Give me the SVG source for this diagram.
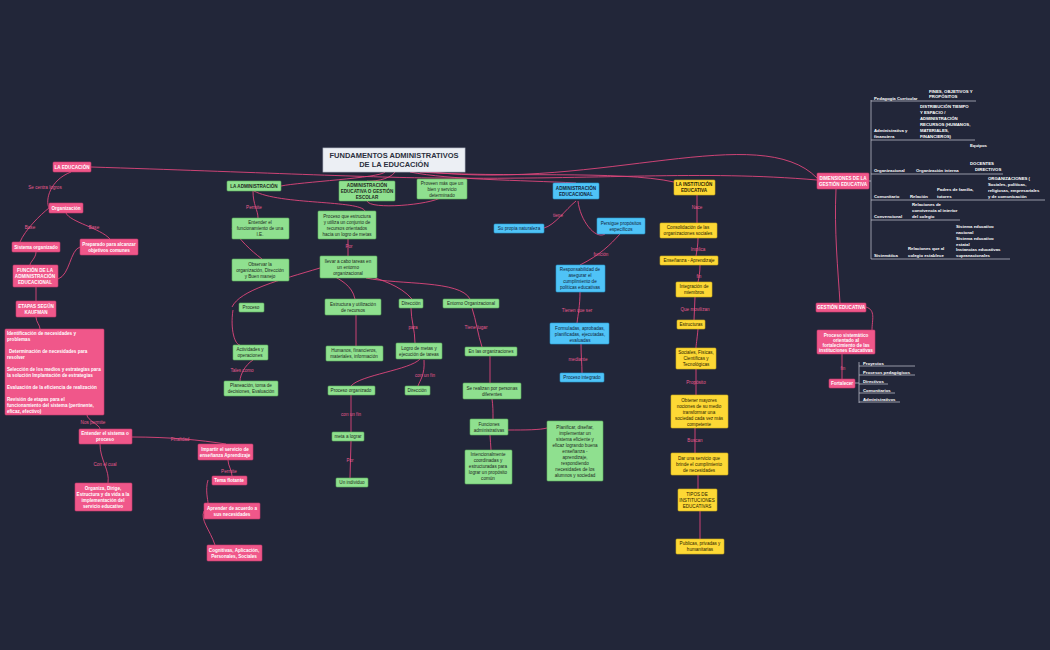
<svg xmlns="http://www.w3.org/2000/svg" width="1050" height="650" viewBox="0 0 1050 650">
<style>
text{font-family:"Liberation Sans",Arial,sans-serif;font-size:4.6px;text-anchor:middle}
.p rect{fill:#f0578a;stroke:#c93a6c;stroke-width:.6}
.p text{fill:#fff;font-weight:bold}
.g rect{fill:#8fe08f;stroke:#5fb35f;stroke-width:.6}
.g text{fill:#1e2a1e}
.b rect{fill:#4fc3f7;stroke:#2a9ad0;stroke-width:.6}
.b text{fill:#10243a}
.y rect{fill:#fdd835;stroke:#d4b11c;stroke-width:.6}
.y text{fill:#2a2300}
.bold text{font-weight:bold}
.lab{fill:#e75a8d;font-size:4.6px}
#connectors path{fill:none;stroke:#e0467c;stroke-width:.9}
.tl{fill:#fff;font-weight:bold;text-anchor:start;font-size:4.3px}
.ln{stroke:#c9ccd6;stroke-width:.7;fill:none}
</style>
<rect width="1050" height="650" fill="#222639"/>

<g id="connectors">
<path d="M91,167 C250,172 380,178 440,178 C600,180 700,170 817,180"/>
<path d="M385,172 C380,178 300,182 281,186"/>
<path d="M395,172 C390,180 370,182 367,181"/>
<path d="M410,172 C450,180 520,180 576,183"/>
<path d="M420,172 C500,178 620,170 674,182"/>
<path d="M430,172 C600,190 760,120 817,178"/>
<path d="M71,172 C50,180 45,200 49,208"/>
<path d="M49,208 C40,215 25,230 20,242"/>
<path d="M66,213 C70,222 100,228 110,239"/>
<path d="M36,252 C36,258 30,262 30,265"/>
<path d="M58,279 C70,275 70,250 80,247"/>
<path d="M36,287 L36,301"/>
<path d="M36,317 C36,322 40,325 40,329"/>
<path d="M87,415 C87,420 100,425 100,429"/>
<path d="M100,444 C100,460 110,470 108,483"/>
<path d="M132,437 C170,437 200,440 226,444"/>
<path d="M228,460 C228,466 232,470 232,476"/>
<path d="M208,480 C205,490 208,500 208,503"/>
<path d="M215,545 C210,530 200,520 204,511"/>
<path d="M253,191 C253,205 258,210 258,218"/>
<path d="M254,191 C280,205 360,200 365,211"/>
<path d="M367,201 C370,210 430,205 442,197"/>
<path d="M348,239 L348,256"/>
<path d="M232,228 C240,240 250,250 262,259"/>
<path d="M320,268 C280,280 240,290 232,307"/>
<path d="M332,275 C340,280 352,285 355,299"/>
<path d="M370,276 C380,280 400,285 412,299"/>
<path d="M366,278 C400,285 460,280 470,299"/>
<path d="M233,310 C230,330 235,345 240,345"/>
<path d="M253,360 C245,365 240,375 240,381"/>
<path d="M356,315 L356,346"/>
<path d="M411,308 C411,320 415,330 415,343"/>
<path d="M472,308 C476,320 478,335 482,347"/>
<path d="M420,359 C410,370 360,375 351,386"/>
<path d="M424,360 C425,375 420,380 418,386"/>
<path d="M490,356 L490,383"/>
<path d="M351,395 L351,432"/>
<path d="M351,441 L350,478"/>
<path d="M492,399 C493,405 493,412 493,419"/>
<path d="M490,435 C490,440 491,445 491,450"/>
<path d="M508,430 C525,430 540,430 547,428"/>
<path d="M544,228 C555,225 565,210 576,201"/>
<path d="M578,201 C580,220 595,240 605,234"/>
<path d="M620,234 C610,245 600,255 580,265"/>
<path d="M580,292 C580,305 578,315 577,323"/>
<path d="M581,344 C581,355 582,365 582,373"/>
<path d="M697,190 L697,223"/>
<path d="M698,238 C698,245 697,250 696,256"/>
<path d="M700,265 C700,272 699,278 698,282"/>
<path d="M695,297 L694,320"/>
<path d="M698,329 C697,340 696,345 696,348"/>
<path d="M696,369 L696,395"/>
<path d="M695,428 L695,453"/>
<path d="M698,475 L698,489"/>
<path d="M700,511 L700,539"/>
<path d="M836,189 C834,230 838,270 840,303"/>
<path d="M866,307 C876,310 872,320 872,330"/>
<path d="M842,354 L842,379"/>
</g>

<g id="title"><rect x="323" y="148" width="142" height="24" fill="#eceff4" stroke="#b9bfcc" stroke-width=".7"/><text x="394" y="158" style="font-size:7.5px;font-weight:bold;fill:#2b2f3d">FUNDAMENTOS ADMINISTRATIVOS</text><text x="394" y="167" style="font-size:7.5px;font-weight:bold;fill:#2b2f3d">DE LA EDUCACIÓN</text></g>

<g id="n-educacion" class="p"><rect x="53" y="162" width="38" height="10" rx="1"/><text x="72" y="169">LA EDUCACIÓN</text></g>
<g id="n-organizacion" class="p"><rect x="49" y="203" width="34" height="10" rx="1"/><text x="66" y="210">Organización</text></g>
<g id="n-sistorg" class="p"><rect x="12" y="242" width="48" height="10" rx="1"/><text x="36" y="249">Sistema organizado</text></g>
<g id="n-preparado" class="p"><rect x="80" y="239" width="58" height="16" rx="1"/><text x="109" y="246">Preparado para alcanzar</text><text x="109" y="252">objetivos comunes</text></g>
<g id="n-funcion" class="p"><rect x="13" y="265" width="45" height="22" rx="1"/><text x="35" y="272">FUNCIÓN DE LA</text><text x="35" y="278">ADMINISTRACIÓN</text><text x="35" y="284">EDUCACIONAL</text></g>
<g id="n-etapas" class="p"><rect x="16" y="301" width="40" height="16" rx="1"/><text x="36" y="308">ETAPAS SEGÚN</text><text x="36" y="314">KAUFMAN</text></g>
<g id="n-lista" class="p"><rect x="5" y="329" width="99" height="86" rx="1"/>
<text x="7" y="335" style="text-anchor:start">Identificación de necesidades y</text><text x="7" y="341" style="text-anchor:start">problemas</text>
<text x="9" y="353" style="text-anchor:start">Determinación de necesidades para</text><text x="7" y="359" style="text-anchor:start">resolver</text>
<text x="7" y="371" style="text-anchor:start">Selección de los medios y estrategias para</text><text x="7" y="377" style="text-anchor:start">la solución Implantación de estrategias</text>
<text x="7" y="389" style="text-anchor:start">Evaluación de la eficiencia de realización</text>
<text x="7" y="401" style="text-anchor:start">Revisión de etapas para el</text><text x="7" y="407" style="text-anchor:start">funcionamiento del sistema (pertinente,</text><text x="7" y="413" style="text-anchor:start">eficaz, efectivo)</text></g>
<g id="n-entender" class="p"><rect x="79" y="429" width="53" height="15" rx="1"/><text x="105" y="435">Entender el sistema o</text><text x="105" y="441">proceso</text></g>
<g id="n-organiza" class="p"><rect x="75" y="483" width="57" height="28" rx="1"/><text x="103" y="490">Organiza, Dirige,</text><text x="103" y="496">Estructura y da vida a la</text><text x="103" y="502">implementación del</text><text x="103" y="508">servicio educativo</text></g>
<g id="n-impartir" class="p"><rect x="198" y="444" width="55" height="16" rx="1"/><text x="225" y="451">Impartir el servicio de</text><text x="225" y="457">enseñanza Aprendizaje</text></g>
<g id="n-tema" class="p"><rect x="212" y="476" width="35" height="9" rx="1"/><text x="229" y="482">Tema flotante</text></g>
<g id="n-aprender" class="p"><rect x="204" y="503" width="56" height="16" rx="1"/><text x="232" y="510">Aprender de acuerdo a</text><text x="232" y="516">sus necesidades</text></g>
<g id="n-cognitivas" class="p"><rect x="207" y="545" width="55" height="16" rx="1"/><text x="234" y="552">Cognitivas, Aplicación,</text><text x="234" y="558">Personales, Sociales</text></g>

<g id="n-laadmin" class="g bold"><rect x="227" y="181" width="54" height="10" rx="1"/><text x="254" y="188">LA ADMINISTRACIÓN</text></g>
<g id="n-admedu" class="g bold"><rect x="339" y="181" width="56" height="20" rx="1"/><text x="367" y="187">ADMINISTRACIÓN</text><text x="367" y="193">EDUCATIVA O GESTIÓN</text><text x="367" y="199">ESCOLAR</text></g>
<g id="n-proveen" class="g"><rect x="417" y="179" width="50" height="20" rx="1"/><text x="442" y="185">Proveen más que un</text><text x="442" y="191">bien y servicio</text><text x="442" y="197">determinado</text></g>
<g id="n-procesoq" class="g"><rect x="318" y="211" width="58" height="28" rx="1"/><text x="347" y="218">Proceso que estructura</text><text x="347" y="224">y utiliza un conjunto de</text><text x="347" y="230">recursos orientados</text><text x="347" y="236">hacia un logro de metas</text></g>
<g id="n-entfun" class="g"><rect x="232" y="218" width="57" height="21" rx="1"/><text x="260" y="224">Entender el</text><text x="260" y="230">funcionamiento de una</text><text x="260" y="236">I.E.</text></g>
<g id="n-observar" class="g"><rect x="232" y="259" width="57" height="22" rx="1"/><text x="260" y="266">Observar la</text><text x="260" y="272">organización, Dirección</text><text x="260" y="278">y Buen manejo</text></g>
<g id="n-llevar" class="g"><rect x="320" y="256" width="57" height="22" rx="1"/><text x="348" y="263">llevar a cabo tareas en</text><text x="348" y="269">un entorno</text><text x="348" y="275">organizacional</text></g>
<g id="n-proceso" class="g"><rect x="239" y="303" width="25" height="9" rx="1"/><text x="251" y="309">Proceso</text></g>
<g id="n-estructura" class="g"><rect x="325" y="299" width="56" height="16" rx="1"/><text x="353" y="306">Estructura y utilización</text><text x="353" y="312">de recursos</text></g>
<g id="n-direccion1" class="g"><rect x="399" y="299" width="24" height="9" rx="1"/><text x="411" y="305">Dirección</text></g>
<g id="n-entorno" class="g"><rect x="443" y="299" width="56" height="9" rx="1"/><text x="471" y="305">Entorno Organizacional</text></g>
<g id="n-actividades" class="g"><rect x="233" y="345" width="35" height="15" rx="1"/><text x="250" y="351">Actividades y</text><text x="250" y="357">operaciones</text></g>
<g id="n-humanos" class="g"><rect x="326" y="346" width="57" height="15" rx="1"/><text x="354" y="352">Humanos, financieros,</text><text x="354" y="358">materiales, información</text></g>
<g id="n-logro" class="g"><rect x="396" y="343" width="46" height="16" rx="1"/><text x="419" y="350">Logro de metas  y</text><text x="419" y="356">ejecución de tareas</text></g>
<g id="n-enorg" class="g"><rect x="465" y="347" width="52" height="9" rx="1"/><text x="491" y="353">En las organizaciones</text></g>
<g id="n-planeacion" class="g"><rect x="224" y="381" width="54" height="15" rx="1"/><text x="251" y="387">Planeación, toma de</text><text x="251" y="393">decisiones, Evaluación</text></g>
<g id="n-procorg" class="g"><rect x="328" y="386" width="47" height="9" rx="1"/><text x="351" y="392">Proceso organizado</text></g>
<g id="n-direccion2" class="g"><rect x="405" y="386" width="25" height="9" rx="1"/><text x="417" y="392">Dirección</text></g>
<g id="n-realizan" class="g"><rect x="463" y="383" width="58" height="16" rx="1"/><text x="492" y="390">Se realizan por personas</text><text x="492" y="396">diferentes</text></g>
<g id="n-meta" class="g"><rect x="332" y="432" width="32" height="9" rx="1"/><text x="348" y="438">meta a lograr</text></g>
<g id="n-funciones" class="g"><rect x="470" y="419" width="38" height="16" rx="1"/><text x="489" y="426">Funciones</text><text x="489" y="432">administrativas</text></g>
<g id="n-intencion" class="g"><rect x="465" y="450" width="47" height="34" rx="1"/><text x="488" y="456">Intencionalmente</text><text x="488" y="462">coordinadas  y</text><text x="488" y="468">estructuradas para</text><text x="488" y="474">lograr un propósito</text><text x="488" y="480">común</text></g>
<g id="n-planificar" class="g"><rect x="547" y="421" width="56" height="60" rx="1"/><text x="575" y="429">Planificar, diseñar,</text><text x="575" y="435">implementar un</text><text x="575" y="441">sistema eficiente y</text><text x="575" y="447">eficaz logrando buena</text><text x="575" y="453">enseñanza -</text><text x="575" y="459">aprendizaje,</text><text x="575" y="465">respondiendo</text><text x="575" y="471">necesidades de los</text><text x="575" y="477">alumnos y sociedad</text></g>
<g id="n-individuo" class="g"><rect x="336" y="478" width="32" height="9" rx="1"/><text x="352" y="484">Un individuo</text></g>

<g id="n-admeduc" class="b bold"><rect x="553" y="183" width="46" height="16" rx="1"/><text x="576" y="190">ADMINISTRACIÓN</text><text x="576" y="196">EDUCACIONAL</text></g>
<g id="n-naturaleza" class="b"><rect x="494" y="224" width="50" height="9" rx="1"/><text x="519" y="230">Su propia naturaleza</text></g>
<g id="n-persigue" class="b"><rect x="597" y="218" width="48" height="16" rx="1"/><text x="621" y="225">Persigue propósitos</text><text x="621" y="231">específicos</text></g>
<g id="n-respons" class="b"><rect x="556" y="265" width="49" height="27" rx="1"/><text x="580" y="271">Responsabilidad de</text><text x="580" y="277">asegurar el</text><text x="580" y="283">cumplimiento de</text><text x="580" y="289">políticas educativas</text></g>
<g id="n-formuladas" class="b"><rect x="550" y="323" width="59" height="21" rx="1"/><text x="580" y="330">Formuladas, aprobadas,</text><text x="580" y="336">planificadas, ejecutadas,</text><text x="580" y="342">evaluadas</text></g>
<g id="n-integrado" class="b"><rect x="560" y="373" width="44" height="9" rx="1"/><text x="582" y="379">Proceso integrado</text></g>

<g id="n-institucion" class="y bold"><rect x="674" y="180" width="41" height="15" rx="1"/><text x="694" y="186">LA INSTITUCIÓN</text><text x="694" y="192">EDUCATIVA</text></g>
<g id="n-consolid" class="y"><rect x="660" y="223" width="57" height="15" rx="1"/><text x="688" y="229">Consolidación  de las</text><text x="688" y="235">organizaciones  sociales</text></g>
<g id="n-ensenanza" class="y"><rect x="660" y="256" width="58" height="9" rx="1"/><text x="689" y="262">Enseñanza - Aprendizaje</text></g>
<g id="n-integracion" class="y"><rect x="676" y="282" width="36" height="15" rx="1"/><text x="694" y="288">Integración de</text><text x="694" y="294">miembros</text></g>
<g id="n-estructuras" class="y"><rect x="677" y="320" width="28" height="9" rx="1"/><text x="691" y="326">Estructuras</text></g>
<g id="n-sociales" class="y"><rect x="676" y="348" width="40" height="21" rx="1"/><text x="696" y="354">Sociales, Físicas,</text><text x="696" y="360">Científicas y</text><text x="696" y="366">Tecnológicas</text></g>
<g id="n-obtener" class="y"><rect x="671" y="395" width="57" height="33" rx="1"/><text x="699" y="402">Obtener mayores</text><text x="699" y="408">nociones de su medio</text><text x="699" y="414">transformar una</text><text x="699" y="420">sociedad cada vez más</text><text x="699" y="426">competente</text></g>
<g id="n-dar" class="y"><rect x="671" y="453" width="57" height="22" rx="1"/><text x="699" y="460">Dar una servicio que</text><text x="699" y="466">brinde el cumplimiento</text><text x="699" y="472">de necesidades</text></g>
<g id="n-tipos" class="y"><rect x="678" y="489" width="39" height="22" rx="1"/><text x="697" y="496">TIPOS DE</text><text x="697" y="502">INSTITUCIONES</text><text x="697" y="508">EDUCATIVAS</text></g>
<g id="n-publicas" class="y"><rect x="676" y="539" width="48" height="15" rx="1"/><text x="700" y="545">Publicas, privadas y</text><text x="700" y="551">humanitarias</text></g>

<g id="n-dimensiones" class="p"><rect x="817" y="173" width="52" height="16" rx="1"/><text x="843" y="180">DIMENSIONES DE LA</text><text x="843" y="186">GESTIÓN EDUCATIVA</text></g>
<g id="n-gestion" class="p"><rect x="816" y="303" width="50" height="9" rx="1"/><text x="841" y="309">GESTIÓN EDUCATIVA</text></g>
<g id="n-sistematico" class="p"><rect x="817" y="330" width="58" height="24" rx="1"/><text x="846" y="337">Proceso sistemático</text><text x="846" y="342">orientado al</text><text x="846" y="347">fortalecimiento de las</text><text x="846" y="352">instituciones Educativas</text></g>
<g id="n-fortalecer" class="p"><rect x="829" y="379" width="26" height="9" rx="1"/><text x="842" y="385">Fortalecer</text></g>

<g id="labels">
<text class="lab" x="45" y="189">Se centra logros</text>
<text class="lab" x="30" y="229">Base</text>
<text class="lab" x="94" y="229">Base</text>
<text class="lab" x="93" y="424">Nos permite</text>
<text class="lab" x="180" y="441">Finalidad</text>
<text class="lab" x="105" y="466">Con el cual</text>
<text class="lab" x="229" y="473">Permite</text>
<text class="lab" x="254" y="209">Permite</text>
<text class="lab" x="349" y="248">Por</text>
<text class="lab" x="242" y="372">Tales como</text>
<text class="lab" x="413" y="329">para</text>
<text class="lab" x="476" y="329">Tiene lugar</text>
<text class="lab" x="425" y="377">con un fin</text>
<text class="lab" x="351" y="416">con un fin</text>
<text class="lab" x="350" y="462">Por</text>
<text class="lab" x="558" y="217">tiene</text>
<text class="lab" x="601" y="256">función</text>
<text class="lab" x="577" y="312">Tienen que ser</text>
<text class="lab" x="578" y="361">mediante</text>
<text class="lab" x="697" y="209">Nace</text>
<text class="lab" x="698" y="251">Implica</text>
<text class="lab" x="699" y="278">fin</text>
<text class="lab" x="695" y="311">Que movilizan</text>
<text class="lab" x="696" y="384">Propósito</text>
<text class="lab" x="695" y="442">Buscan</text>
<text class="lab" x="843" y="370">fin</text>
</g>

<g id="dim-tree">
<path class="ln" d="M869,181 L871,181 M871,100 L871,259 M871,101 L976,101 M871,140 L975,140 M871,174 L1003,174 M871,200 L1045,200 M871,220 L960,220 M871,259 L1010,259"/>
<text class="tl" x="874" y="100">Pedagogía Curricular</text>
<text class="tl" x="929" y="93">FINES, OBJETIVOS Y</text><text class="tl" x="929" y="98">PROPÓSITOS</text>
<text class="tl" x="874" y="132">Administrativa y</text><text class="tl" x="874" y="138">financiera</text>
<text class="tl" x="920" y="108">DISTRIBUCIÓN TIEMPO</text><text class="tl" x="920" y="114">Y ESPACIO  /</text><text class="tl" x="920" y="120">ADMINISTRACIÓN</text><text class="tl" x="920" y="126">RECURSOS (HUMANOS,</text><text class="tl" x="920" y="132">MATERIALES,</text><text class="tl" x="920" y="138">FINANCIEROS)</text>
<text class="tl" x="874" y="172">Organizacional</text><text class="tl" x="916" y="172">Organización interna</text>
<text class="tl" x="970" y="147">Equipos</text><text class="tl" x="970" y="165">DOCENTES</text><text class="tl" x="975" y="171">DIRECTIVOS</text>
<text class="tl" x="874" y="198">Comunitario</text><text class="tl" x="910" y="198">Relación</text>
<text class="tl" x="937" y="191">Padres de familia,</text><text class="tl" x="937" y="198">tutores</text>
<text class="tl" x="988" y="180">ORGANIZACIONES (</text><text class="tl" x="988" y="186">Sociales, políticas,</text><text class="tl" x="988" y="192">religiosas, empresariales</text><text class="tl" x="988" y="198">y de comunicación</text>
<text class="tl" x="874" y="218">Convencional</text>
<text class="tl" x="912" y="206">Relaciones de</text><text class="tl" x="912" y="212">convivencia al interior</text><text class="tl" x="912" y="218">del colegio</text>
<text class="tl" x="874" y="257">Sistemática</text>
<text class="tl" x="908" y="250">Relaciones que al</text><text class="tl" x="908" y="257">colegio establece</text>
<text class="tl" x="956" y="228">Sistema educativo</text><text class="tl" x="956" y="234">nacional</text><text class="tl" x="956" y="240">Sistema educativo</text><text class="tl" x="956" y="246">estatal</text><text class="tl" x="956" y="251">Instancias educativas</text><text class="tl" x="956" y="257">supranacionales</text>
</g>

<g id="fort-tree">
<path class="ln" d="M855,383 L859,383 M859,362 L859,403 M859,366 L915,366 M859,375 L915,375 M859,384 L888,384 M859,393 L895,393 M859,402 L900,402"/>
<text class="tl" x="863" y="365">Proyectos</text>
<text class="tl" x="863" y="374">Procesos pedagógicos</text>
<text class="tl" x="863" y="383">Directivos</text>
<text class="tl" x="863" y="392">Comunitarios</text>
<text class="tl" x="863" y="401">Administrativos</text>
</g>
</svg>
